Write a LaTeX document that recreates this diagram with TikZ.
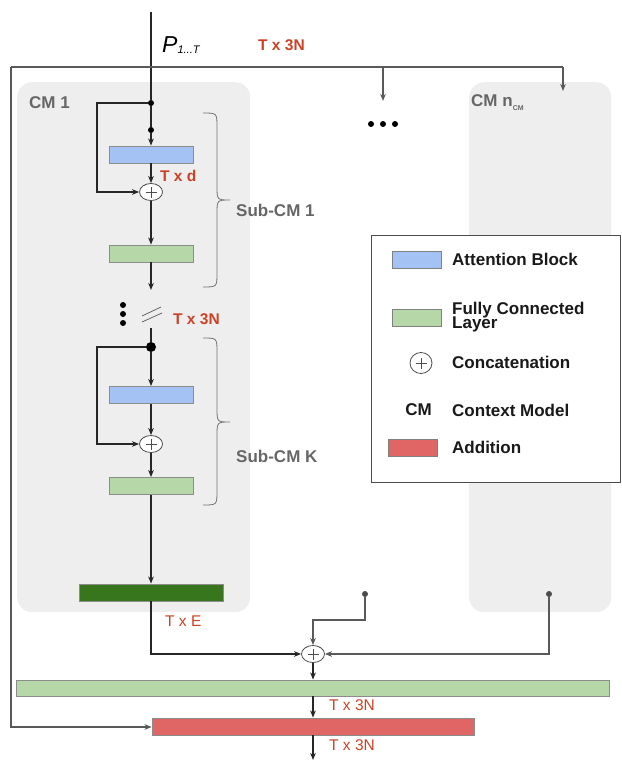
\documentclass[tikz,border=0pt]{standalone}
\usepackage{fontspec}
\setmainfont{Liberation Sans}
\usetikzlibrary{arrows.meta,shapes.geometric}
\definecolor{cmgray}{HTML}{EEEEEE}
\definecolor{attblue}{HTML}{A4C2F4}
\definecolor{fcgreen}{HTML}{B6D7A8}
\definecolor{darkfc}{HTML}{38761D}
\definecolor{addred}{HTML}{E06666}
\definecolor{lblred}{HTML}{CC4125}
\definecolor{lblgray}{HTML}{666666}
\begin{document}
\begin{tikzpicture}[x=1pt,y=-1pt,
  ln/.style={line width=1.1pt, draw=black!85},
  lngray/.style={line width=1.1pt, draw=black!65},
  arr/.style={ln, -{Stealth[length=7pt,width=5.5pt,inset=2pt]}},
  arrgray/.style={lngray, -{Stealth[length=7pt,width=5.5pt,inset=2pt]}},
  blk/.style={draw=black!45, line width=0.8pt, minimum width=84pt, minimum height=17pt, inner sep=0pt},
  attn/.style={blk, fill=attblue},
  fc/.style={blk, fill=fcgreen},
  plusnode/.style={ellipse, draw=black!70, line width=0.8pt, fill=white, minimum width=23pt, minimum height=17pt, inner sep=0pt,
    path picture={\draw[black!70, line width=0.7pt] (path picture bounding box.center) ++(-5.5pt,0) -- ++(11pt,0);
                  \draw[black!70, line width=0.7pt] (path picture bounding box.center) ++(0,-5.5pt) -- ++(0,11pt);}},
  dotnode/.style={circle, fill=black, inner sep=0pt, minimum size=6pt},
  cmbox/.style={fill=cmgray, rounded corners=15pt, anchor=north west, inner sep=0pt},
  graylbl/.style={text=lblgray, font=\fontsize{17}{17}\selectfont\bfseries, anchor=west, inner sep=0pt},
  redlbl/.style={text=lblred, font=\fontsize{15.5}{15.5}\selectfont\bfseries, anchor=west, inner sep=0pt},
  redlblr/.style={text=lblred, font=\fontsize{15.5}{15.5}\selectfont, anchor=west, inner sep=0pt},
  legtxt/.style={text=black!90, font=\fontsize{17}{14}\selectfont\bfseries, anchor=west, inner sep=0pt, align=left},
  legblk/.style={draw=black!50, line width=0.9pt, minimum width=49pt, minimum height=17pt, inner sep=0pt}
]
\useasboundingbox (0,0) rectangle (621,760);

% context model panels
\node[cmbox, minimum width=233pt, minimum height=530pt] (cm1) at (17,82) {};
\node[cmbox, minimum width=142pt, minimum height=530pt] (cmn) at (469,82) {};

% legend
\node[draw=black!70, line width=1.2pt, fill=white, anchor=north west, minimum width=249pt, minimum height=247pt, inner sep=0pt] (leg) at (371,235) {};
\node[legblk, fill=attblue] (lg1) at (416.5,259.5) {};
\node[legtxt] (lt1) at (452,259) {Attention Block};
\node[legblk, fill=fcgreen] (lg2) at (416.5,318) {};
\node[legtxt] (lt2) at (452,317) {Fully Connected\\[-1.5pt]Layer};
\node[plusnode, minimum width=22pt, minimum height=21pt] (lg3) at (421,363) {};
\node[legtxt] (lt3) at (452,362) {Concatenation};
\node[text=black!90, font=\fontsize{17}{17}\selectfont\bfseries, inner sep=0pt] (lg4) at (418.5,410) {CM};
\node[legtxt] (lt4) at (452,410) {Context Model};
\node[legblk, fill=addred] (lg5) at (412.5,448) {};
\node[legtxt] (lt5) at (452,447) {Addition};

% labels
\node[anchor=west, inner sep=0pt] (plbl) at (162,45) {{\fontsize{23}{23}\selectfont\itshape P}\raisebox{-1.5pt}{\fontsize{11}{11}\selectfont\itshape 1...T}};
\node[redlbl] (r0) at (258,45) {T x 3N};
\node[graylbl] (cm1l) at (29,103) {CM 1};
\node[graylbl] (cmnl) at (471,103) {CM n\raisebox{-4pt}{\fontsize{7}{7}\selectfont CM}};
\node[redlbl] (r1) at (160,176) {T x d};
\node[graylbl] (s1) at (236,210) {Sub-CM 1};
\node[redlbl] (r2) at (173,319) {T x 3N};
\node[graylbl] (s2) at (236,456) {Sub-CM K};
\node[redlblr] (r3) at (165,621) {T x E};
\node[redlblr] (r4) at (329,705) {T x 3N};
\node[redlblr] (r5) at (329,745) {T x 3N};

% sub-CM 1
\coordinate (pin) at (151,12);
\node[dotnode] (d1) at (151,103) {};
\node[dotnode] (d2) at (151,130) {};
\node[attn] (a1) at (151,154.5) {};
\node[plusnode] (p1) at (151,192) {};
\node[fc] (f1) at (151,253.5) {};
\coordinate (f1out) at (151,290);
\coordinate (l1a) at (97,103);
\coordinate (l1b) at (97,192);

% sub-CM K
\coordinate (kin) at (151,328);
\node[dotnode, minimum size=10pt] (d3) at (151,347) {};
\node[attn] (a2) at (151,395) {};
\node[plusnode] (p2) at (151,444) {};
\node[fc] (f2) at (151,486) {};
\node[blk, fill=darkfc, minimum width=144pt] (dg) at (151,592.5) {};
\coordinate (l2a) at (97,347);
\coordinate (l2b) at (97,444);

% bottom
\node[plusnode] (p3) at (313,654) {};
\node[dotnode, fill=black!70] (e1) at (365,594) {};
\node[dotnode, fill=black!70] (e2) at (549,594) {};
\coordinate (e1b) at (365,620);
\node[blk, fill=fcgreen, minimum width=593pt, minimum height=16pt] (fw) at (312.5,688) {};
\node[blk, fill=addred, minimum width=322pt, minimum height=17pt] (rd) at (313,726.5) {};
\coordinate (out) at (313,760);

% top distribution
\coordinate (tl) at (11,67);
\coordinate (tm) at (383,67);
\coordinate (tr) at (563,67);
\coordinate (tmend) at (383,101);
\coordinate (trend) at (563,91);
\coordinate (bl) at (11,727);

% ellipsis marks
\node[dotnode] (h1) at (371,124) {};
\node[dotnode] (h2) at (383,124) {};
\node[dotnode] (h3) at (395,124) {};
\node[dotnode] (v1) at (123,305) {};
\node[dotnode] (v2) at (123,314) {};
\node[dotnode] (v3) at (123,323) {};
\draw[black!60, line width=0.8pt] (142,316) -- (161,307);
\draw[black!60, line width=0.8pt] (142,322) -- (162,313);

% braces
\draw[black!55, line width=0.8pt] (203,113) .. controls (217,113) .. (217,127) -- (217,186) .. controls (217,200) .. (230,200) .. controls (217,200) .. (217,214) -- (217,273) .. controls (217,287) .. (203,287);
\draw[black!55, line width=0.8pt] (203,338) .. controls (217,338) .. (217,352) -- (217,408) .. controls (217,422) .. (230,422) .. controls (217,422) .. (217,436) -- (217,491) .. controls (217,505) .. (203,505);

% connectors
\draw[ln] (pin) -- (d1);
\draw[ln] (d1) -- (d2);
\draw[arr] (d2) -- (a1);
\draw[arr] (a1) -- (p1);
\draw[arr] (d1) -- (l1a) -- (l1b) -- (p1);
\draw[arr] (p1) -- (f1);
\draw[arr] (f1) -- (f1out);

\draw[ln] (kin) -- (d3);
\draw[arr] (d3) -- (a2);
\draw[arr] (a2) -- (p2);
\draw[arr] (d3) -- (l2a) -- (l2b) -- (p2);
\draw[arr] (p2) -- (f2);
\draw[arr] (f2) -- (dg);

\draw[arr] (dg) |- (p3);
\draw[arrgray] (e1) -- (e1b) -| (p3);
\draw[arrgray] (e2) |- (p3);
\draw[arr] (p3) -- (p3 |- fw.north);
\draw[arr] (p3 |- fw.south) -- (p3 |- rd.north);
\draw[arr] (rd) -- (out);

\draw[lngray] (tl) -- (tr);
\draw[arrgray] (tm) -- (tmend);
\draw[arrgray] (tr) -- (trend);
\draw[arrgray] (tl) -- (bl) -- (rd.west |- bl);
\end{tikzpicture}
\end{document}
